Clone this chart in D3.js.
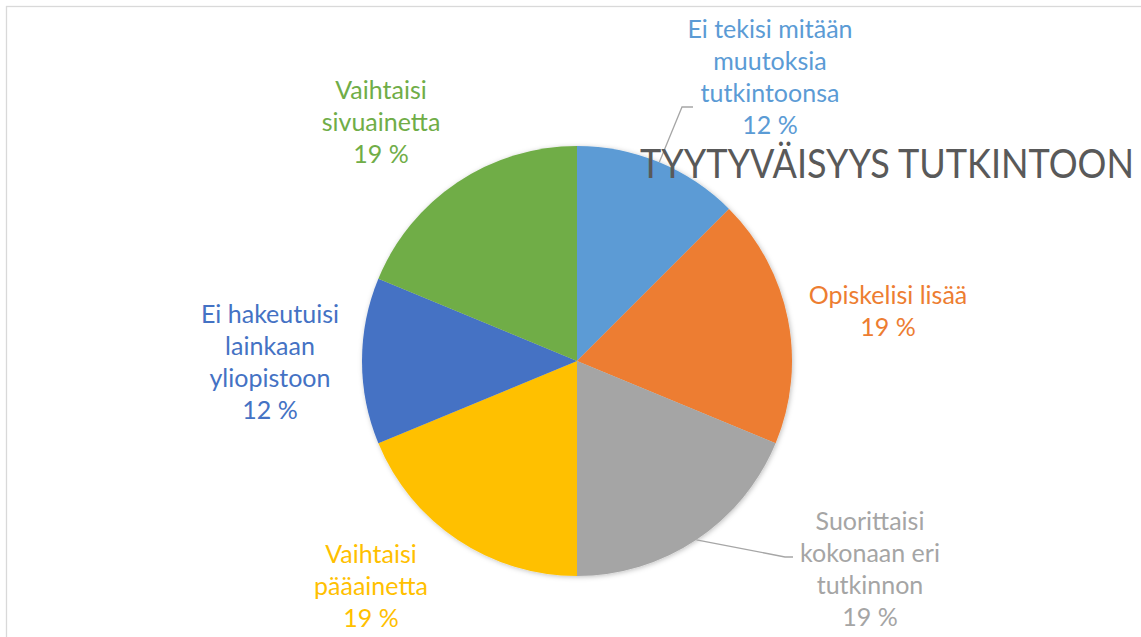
<!DOCTYPE html>
<html>
<head>
<meta charset="utf-8">
<script src="https://cdn.jsdelivr.net/npm/d3@7"></script>
<style>
  body { margin: 0; background: #fff; }
  svg { display: block; font-family: Lato, "Open Sans", sans-serif; }
</style>
</head>
<body>
<svg id="pie_svg"></svg>
<script>
// slices, clockwise from 12 o'clock
const categories = [
  "Ei tekisi mitään muutoksia tutkintoonsa",
  "Opiskelisi lisää",
  "Suorittaisi kokonaan eri tutkinnon",
  "Vaihtaisi pääainetta",
  "Ei hakeutuisi lainkaan yliopistoon",
  "Vaihtaisi sivuainetta"
];
const values = [2, 3, 3, 3, 2, 3];
const percentLabels = ["12 %", "19 %", "19 %", "19 %", "12 %", "19 %"];
const labelLines = [
  ["Ei tekisi mitään", "muutoksia", "tutkintoonsa"],
  ["Opiskelisi lisää"],
  ["Suorittaisi", "kokonaan eri", "tutkinnon"],
  ["Vaihtaisi", "pääainetta"],
  ["Ei hakeutuisi", "lainkaan", "yliopistoon"],
  ["Vaihtaisi", "sivuainetta"]
];
const colors = ["#5B9BD5", "#ED7D31", "#A5A5A5", "#FFC000", "#4472C4", "#70AD47"];
const title = "TYYTYVÄISYYS TUTKINTOON";

const width = 1141, height = 637;
const cx = 577, cy = 361, radius = 215;

// where each label block sits (center x, first baseline) and whether it has a leader line
const labelPos = [
  {x: 770, y: 38, leader: true, elbow: [682, 107], end: 693},
  {x: 888, y: 304},
  {x: 870, y: 530, leader: true, elbow: [785, 557], end: 793},
  {x: 371, y: 563},
  {x: 270, y: 323},
  {x: 381, y: 99}
];
const lineH = 32;

const svg = d3.select("#pie_svg")
    .attr("width", width)
    .attr("height", height);

// chart frame
svg.append("rect")
    .attr("x", 6.5).attr("y", 6.5)
    .attr("width", width + 20).attr("height", height + 20)
    .attr("fill", "#fff")
    .attr("stroke", "#d9d9d9")
    .attr("stroke-width", 1.3);

const defs = svg.append("defs");
const shadow = defs.append("filter").attr("id", "shadow")
    .attr("x", "-10%").attr("y", "-10%").attr("width", "120%").attr("height", "120%");
shadow.append("feDropShadow")
    .attr("dx", 1).attr("dy", 1).attr("stdDeviation", 2.5)
    .attr("flood-color", "#000").attr("flood-opacity", 0.25);

const pie = d3.pie().sort(null).value(d => d);
const arcs = pie(values);
const arc = d3.arc().innerRadius(0).outerRadius(radius);

const g = svg.append("g")
    .attr("transform", `translate(${cx},${cy})`);

g.append("g")
    .attr("filter", "url(#shadow)")
  .selectAll("path")
  .data(arcs)
  .join("path")
    .attr("d", arc)
    .attr("fill", (d, i) => colors[i]);

// leader lines
arcs.forEach((d, i) => {
  const p = labelPos[i];
  if (!p.leader) return;
  const mid = (d.startAngle + d.endAngle) / 2;
  const sx = cx + radius * Math.sin(mid), sy = cy - radius * Math.cos(mid);
  svg.append("polyline")
      .attr("points", `${sx},${sy} ${p.elbow[0]},${p.elbow[1]} ${p.end},${p.elbow[1]}`)
      .attr("fill", "none")
      .attr("stroke", "#a6a6a6")
      .attr("stroke-width", 1.3);
});

// title (drawn over the pie, as in the original)
svg.append("text")
    .attr("x", 640).attr("y", 178)
    .attr("textLength", 494)
    .attr("lengthAdjust", "spacingAndGlyphs")
    .attr("font-family", "'Liberation Sans Narrow', Lato, sans-serif")
    .attr("font-size", 41)
    .attr("fill", "#595959")
    .text(title);

// data labels
labelLines.forEach((lines, i) => {
  const p = labelPos[i];
  const t = svg.append("text")
      .attr("text-anchor", "middle")
      .attr("font-size", 25)
      .attr("fill", colors[i]);
  lines.concat([percentLabels[i]]).forEach((s, j) => {
    t.append("tspan")
        .attr("x", p.x)
        .attr("y", p.y + j * lineH)
        .text(s);
  });
});
</script>
</body>
</html>
